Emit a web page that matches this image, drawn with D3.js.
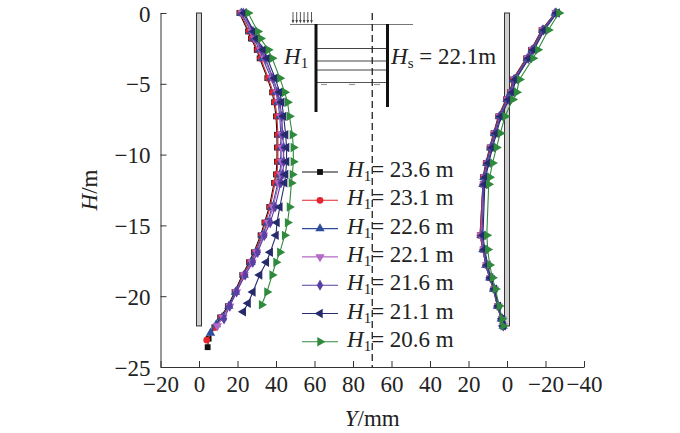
<!DOCTYPE html>
<html>
<head>
<meta charset="utf-8">
<script src="https://d3js.org/d3.v7.min.js"></script>
<style>
body { margin: 0; background: #fff; }
text { font-family: "Liberation Serif", "DejaVu Serif", serif; }
</style>
</head>
<body>
<script>
// wall lengths H1 (legend) and colours
const seriesLabels = ["23.6", "23.1", "22.6", "22.1", "21.6", "21.1", "20.6"];
const seriesColors = ["#111111", "#e3262b", "#2d4d9e", "#b468c6", "#5a3fa4", "#262b6c", "#2f8a3d"];
const seriesSymbols = ["square", "circle", "up", "down", "diamond", "left", "right"];

const xTickLabels = ["\u221220", "0", "20", "40", "60", "80", "60", "40", "20", "0", "\u221220", "\u221240"];
const xTickPos = [-20, 0, 20, 40, 60, 80, 100, 120, 140, 160, 180, 200];
const yTicks = [0, -5, -10, -15, -20, -25];

// left wall (variable length H1)
const leftDepthCommon = [0, -1.3, -1.8, -2.6, -3.2, -4.6, -5.6, -6.3, -7.3, -8.6, -9.5, -10.5, -11.4, -12, -13.7, -14.8, -15.7, -16.9, -17.6, -18.5, -19.7];
const leftDepthTail = [
  [-20.7, -21.5, -22.2, -23.0, -23.6],
  [-20.7, -21.5, -22.2, -23.1],
  [-20.7, -21.5, -22.0, -22.6],
  [-20.7, -21.5, -22.1],
  [-20.7, -21.6],
  [-20.5, -21.1],
  [-20.6]
];
const leftDefl = [
  [21, 25.5, 27, 30, 31.5, 35.5, 38, 39, 40, 40.5, 40.5, 40.5, 40, 39, 36.5, 34, 32, 28.5, 26, 22.5, 18.5, 15, 11, 8, 5, 4.5],
  [21.5, 26, 27.5, 30.5, 32, 36, 38.5, 39.5, 40.5, 41, 41, 41, 40.5, 39.5, 37, 34.5, 32.5, 29, 26.5, 23, 19, 15.5, 11.5, 8.5, 4],
  [22, 27, 28.5, 31.5, 33, 37.5, 40, 41, 42, 42.5, 42.5, 42.5, 42, 41, 38, 35.5, 33, 29.5, 27, 23.5, 19, 15.5, 12, 9, 6],
  [22.5, 27.5, 29, 32, 34, 38, 40.5, 41.5, 42.5, 43, 43, 43, 42.5, 41.5, 38.5, 36, 33.5, 30, 27.5, 23.5, 19.5, 16, 12.5, 9.5],
  [23, 28, 29.5, 32.5, 34.5, 38.5, 41, 42, 43, 43.5, 44, 44, 43.5, 42.5, 39.5, 37, 34, 30.5, 28, 24, 19.5, 16, 13],
  [23.5, 28.5, 30, 33.5, 35.5, 39.5, 42, 43, 44, 45, 45.5, 45.5, 45, 44.5, 42, 40.5, 40, 37, 35, 31.5, 28, 25.5, 23],
  [25.5, 30.5, 32, 36, 38, 42, 44.5, 46, 47, 48.5, 49, 49, 48.5, 48, 47, 46, 44.5, 42, 40, 38, 35.3, 32.5]
];

// right wall (Hs = 22.1 m)
const rightDepth = [0, -1.2, -2.6, -3.2, -4.7, -5.6, -6.1, -7.3, -8.5, -9.5, -10.6, -11.6, -12.1, -15.7, -16.7, -17.8, -18.7, -19.5, -20.7, -21.6, -22.1];
const rightDefl = [
  [-25, -18, -12.5, -10, -3, -1.5, 0.5, 4.5, 7, 9, 11, 12.5, 12.5, 14, 12.5, 11, 9, 7, 5, 3, 2],
  [-25, -18.2, -12.7, -10.2, -3.2, -1.7, 0.3, 4.3, 6.8, 8.8, 10.8, 12.3, 12.5, 14, 12.5, 11, 9, 7, 5, 3, 2],
  [-25, -18.5, -13, -10.5, -3.5, -2, 0, 4, 6.5, 8.5, 10.5, 12, 12.5, 13.5, 12.5, 11, 9, 7, 5, 3, 2],
  [-25.5, -19, -13.5, -11, -4, -2.5, -0.5, 3.5, 6, 8, 10, 11.5, 12, 13.5, 12, 10.5, 8.5, 6.5, 4.5, 2.5, 2],
  [-25.5, -19, -13.5, -11, -4, -2.5, -0.5, 3.5, 6, 8, 10, 11.5, 12, 13, 12, 10.5, 8.5, 6.5, 4.5, 2.5, 2],
  [-26, -19.5, -14, -11.5, -4.5, -3, -1, 3, 5.5, 7.5, 9.5, 11, 11.5, 12.5, 11.5, 10, 8.5, 6.5, 4.5, 2.5, 2],
  [-27, -21.5, -16, -13.5, -6.5, -5, -3, 1, 3.5, 5.5, 7.5, 9, 9.5, 10.5, 10, 9, 7.5, 6, 4, 2.5, 2]
];

const wallDepth = -22.1;
const centreLine = 90;   // excavation centre on the folded axis

var width = 680, height = 433;
var svg = d3.select("body").append("svg")
  .attr("width", width).attr("height", height);

// folded axis: left wall uses Y directly, right wall uses 160 - Y
var x = d3.scaleLinear().domain([-20, 200]).range([160.5, 584]);
var y = d3.scaleLinear().domain([-25, 0]).range([367, 13]);
var rightPos = function(v) { return 160 - v; };

// axes
svg.append("g")
  .attr("transform", "translate(0," + y(-25) + ")")
  .call(d3.axisBottom(x).tickValues(xTickPos).tickSize(-6).tickSizeOuter(0)
    .tickFormat(function(d, i) { return xTickLabels[i]; }))
  .call(function(g) {
    g.selectAll("text").attr("font-size", 23).attr("fill", "#222").attr("dy", "0.95em")
      .style("font-family", "Liberation Serif");
    g.selectAll("line").attr("stroke", "#333");
    g.select(".domain").attr("stroke", "#333");
  });

svg.append("g")
  .attr("transform", "translate(" + x(-20) + ",0)")
  .call(d3.axisLeft(y).tickValues(yTicks).tickSize(-6).tickSizeOuter(0)
    .tickFormat(function(d) { return d === 0 ? "0" : "\u2212" + Math.abs(d); }))
  .call(function(g) {
    g.selectAll("text").attr("font-size", 23).attr("fill", "#222").attr("x", -10).attr("dy", "0.35em")
      .style("font-family", "Liberation Serif");
    g.selectAll("line").attr("stroke", "#333");
    g.select(".domain").attr("stroke", "#333");
  });

// axis titles
svg.append("text")
  .attr("transform", "translate(97," + 190 + ") rotate(-90)")
  .attr("text-anchor", "middle").attr("font-size", 23).attr("fill", "#222")
  .html('<tspan font-style="italic">H</tspan>/m');
svg.append("text")
  .attr("x", x(centreLine)).attr("y", 426)
  .attr("text-anchor", "middle").attr("font-size", 23).attr("fill", "#222")
  .html('<tspan font-style="italic">Y</tspan>/mm');

// walls
[0, rightPos(0)].forEach(function(p) {
  svg.append("rect")
    .attr("x", x(p) - 2.5).attr("y", y(0))
    .attr("width", 5).attr("height", y(wallDepth) - y(0))
    .attr("fill", "#cfcfcf").attr("stroke", "#333").attr("stroke-width", 1);
});

// schematic of the excavation
var sk = svg.append("g");
sk.append("line").attr("x1", 290).attr("x2", 413).attr("y1", 24.5).attr("y2", 24.5)
  .attr("stroke", "#777").attr("stroke-width", 1);
d3.range(6).forEach(function(i) {
  var ax = 293 + i * 3.7;
  sk.append("line").attr("x1", ax).attr("x2", ax).attr("y1", 12).attr("y2", 22)
    .attr("stroke", "#444").attr("stroke-width", 0.9);
  sk.append("path").attr("d", "M" + (ax - 1.3) + ",20 L" + (ax + 1.3) + ",20 L" + ax + ",23.5 Z")
    .attr("fill", "#444");
});
[48.5, 61, 70].forEach(function(yy) {
  sk.append("line").attr("x1", 316).attr("x2", 387).attr("y1", yy).attr("y2", yy)
    .attr("stroke", "#444").attr("stroke-width", 1);
});
sk.append("line").attr("x1", 316).attr("x2", 387).attr("y1", 82.5).attr("y2", 82.5)
  .attr("stroke", "#555").attr("stroke-width", 1);
[324, 352, 377].forEach(function(xx) {
  sk.append("line").attr("x1", xx - 3).attr("x2", xx + 3).attr("y1", 84.5).attr("y2", 84.5)
    .attr("stroke", "#999").attr("stroke-width", 1.2);
});
sk.append("line").attr("x1", 316).attr("x2", 316).attr("y1", 24).attr("y2", 112)
  .attr("stroke", "#111").attr("stroke-width", 3);
sk.append("line").attr("x1", 387.5).attr("x2", 387.5).attr("y1", 24).attr("y2", 107)
  .attr("stroke", "#111").attr("stroke-width", 3);
sk.append("text").attr("x", 284).attr("y", 64).attr("font-size", 23).attr("fill", "#222")
  .html('<tspan font-style="italic">H</tspan><tspan font-size="15" dy="4">1</tspan>');
sk.append("text").attr("x", 391).attr("y", 64).attr("font-size", 23).attr("fill", "#222")
  .html('<tspan font-style="italic">H</tspan><tspan font-size="15" dy="4">s</tspan><tspan dy="-4"> = 22.1m</tspan>');

// markers
function symbolPath(kind) {
  if (kind === "square") return d3.symbol(d3.symbolSquare, 34)();
  if (kind === "circle") return d3.symbol(d3.symbolCircle, 36)();
  if (kind === "diamond") return d3.symbol(d3.symbolDiamond, 36)();
  return d3.symbol(d3.symbolTriangle, 38)();
}
function symbolRotate(kind) {
  return kind === "down" ? 180 : kind === "left" ? -90 : kind === "right" ? 90 : 0;
}

var line = d3.line().x(function(d) { return x(d[0]); }).y(function(d) { return y(d[1]); });

seriesLabels.forEach(function(lab, s) {
  var depthL = leftDepthCommon.concat(leftDepthTail[s]);
  var ptsL = leftDefl[s].map(function(v, i) { return [v, depthL[i]]; });
  var ptsR = rightDefl[s].map(function(v, i) { return [rightPos(v), rightDepth[i]]; });
  var g = svg.append("g");
  [ptsL, ptsR].forEach(function(pts) {
    g.append("path").datum(pts).attr("d", line)
      .attr("fill", "none").attr("stroke", seriesColors[s]).attr("stroke-width", 1.1);
    g.selectAll(null).data(pts).enter().append("path")
      .attr("d", symbolPath(seriesSymbols[s]))
      .attr("transform", function(d) {
        return "translate(" + x(d[0]) + "," + y(d[1]) + ") rotate(" + symbolRotate(seriesSymbols[s]) + ")";
      })
      .attr("fill", seriesColors[s]);
  });
});

// legend
var lg = svg.append("g");
seriesLabels.forEach(function(lab, s) {
  var ly = 172 + s * 28.3;
  lg.append("line").attr("x1", 302).attr("x2", 338).attr("y1", ly).attr("y2", ly)
    .attr("stroke", seriesColors[s]).attr("stroke-width", 1.1);
  lg.append("path").attr("d", symbolPath(seriesSymbols[s]))
    .attr("transform", "translate(320," + ly + ") rotate(" + symbolRotate(seriesSymbols[s]) + ")")
    .attr("fill", seriesColors[s]);
  lg.append("text").attr("x", 347).attr("y", ly + 5).attr("font-size", 23).attr("fill", "#222")
    .html('<tspan font-style="italic">H</tspan><tspan font-size="15" dy="4">1</tspan><tspan dy="-4">= ' + lab + ' m</tspan>');
});

// excavation centre line
svg.append("line")
  .attr("x1", x(centreLine)).attr("x2", x(centreLine))
  .attr("y1", y(0)).attr("y2", y(-25))
  .attr("stroke", "#222").attr("stroke-width", 1.3).attr("stroke-dasharray", "7,4");
</script>
</body>
</html>
